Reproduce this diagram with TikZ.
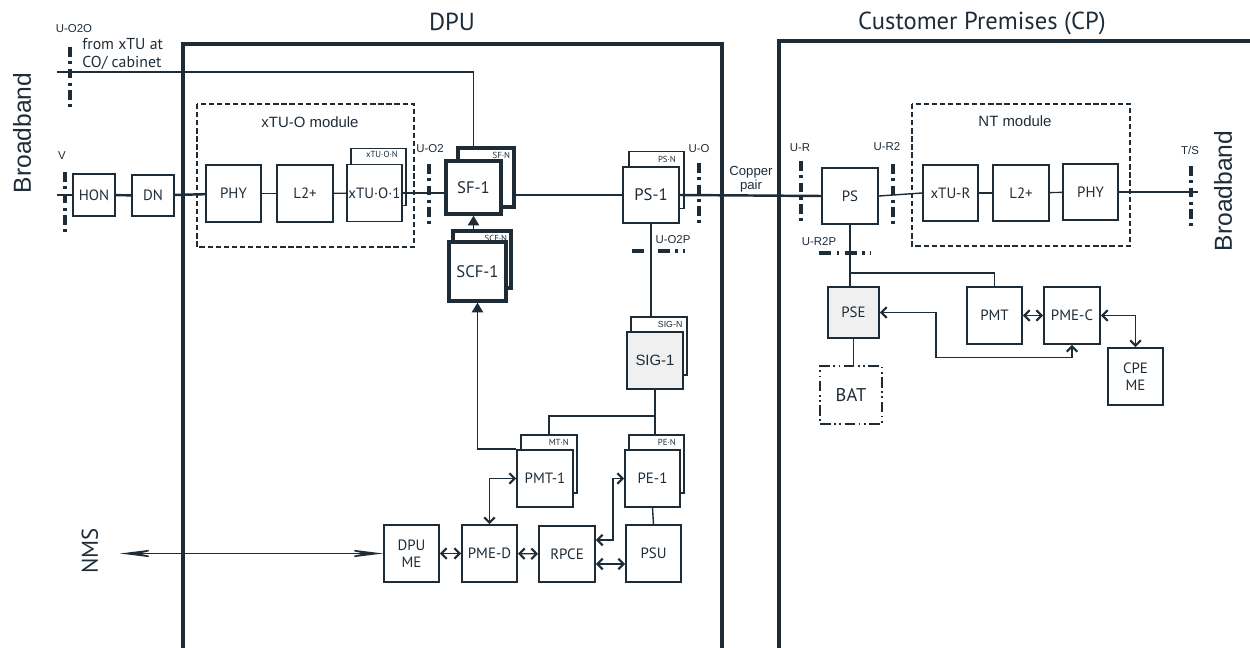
\documentclass[tikz,border=0pt]{standalone}
\usepackage{fontspec}
\usetikzlibrary{arrows.meta}
\newfontfamily\ptsans{PT Sans}
\newfontfamily\arial{Liberation Sans}
\definecolor{ink}{RGB}{30,44,56}
\definecolor{shade}{RGB}{240,240,240}

\tikzset{
	blk/.style={draw=ink, line width=1.1pt, fill=white, text=ink, inner sep=0pt, minimum width=1.1cm, minimum height=1.14cm, align=center, font=\ptsans\fontsize{8.5}{9.5}\selectfont},
	heavy/.style={blk, line width=2pt, font=\ptsans\fontsize{9.5}{10}\selectfont},
	tag/.style={anchor=north east, inner sep=1pt, text=ink, font=\ptsans\fontsize{5}{5}\selectfont},
	wire/.style={draw=ink, line width=0.8pt},
	bus/.style={draw=ink, line width=1.4pt},
	duo/.style={wire, {Straight Barb[length=3pt,width=6pt,line width=1.2pt]}-{Straight Barb[length=3pt,width=6pt,line width=1.2pt]}},
	iface/.style={draw=ink, line width=1.8pt, dash pattern=on 5.5pt off 2.6pt on 1.6pt off 2.6pt},
	module/.style={draw=ink, line width=0.9pt, dash pattern=on 3pt off 1.6pt},
	frame/.style={draw=ink, line width=2.4pt},
	ifname/.style={text=ink, inner sep=0pt, font=\arial\fontsize{6.5}{7}\selectfont},
}

\begin{document}
\begin{tikzpicture}[x=0.02cm, y=-0.02cm]
	
	\useasboundingbox (0,0) rectangle (1250,648);
	
	% DPU and customer premises
	\draw[frame] (183,648) |- (722,44) -- (722,648);
	\draw[frame] (779,648) |- (1250,41);
	\node[text=ink, font=\ptsans\fontsize{14}{16}\selectfont] (dputitle) at (452,22) {DPU};
	\node[text=ink, font=\ptsans\fontsize{14}{16}\selectfont] (cptitle) at (982,23) {Customer Premises (CP)};
	
	\node[rotate=90, text=ink, font=\arial\fontsize{14}{15}\selectfont] (bbleft) at (22,133) {Broadband};
	\node[rotate=90, text=ink, font=\arial\fontsize{14}{15}\selectfont] (bbright) at (1223,191) {Broadband};
	\node[rotate=90, text=ink, font=\ptsans\fontsize{13}{15}\selectfont] (nms) at (90,551) {NMS};
	
	% modules
	\draw[module] (197,104) rectangle (414,247);
	\node[text=ink, font=\arial\fontsize{8.5}{10}\selectfont] (xtumod) at (310,122) {xTU-O module};
	\draw[module] (912,104) rectangle (1130,246);
	\node[text=ink, font=\arial\fontsize{8.5}{10}\selectfont] (ntmod) at (1015,121) {NT module};
	
	% DPU side
	\node[blk, minimum width=0.84cm, minimum height=0.84cm] (hon) at (94,195) {HON};
	\node[blk, minimum width=0.84cm, minimum height=0.82cm] (dn) at (153,195.5) {DN};
	\node[blk] (phy) at (233.5,193.5) {PHY};
	\node[blk, minimum width=1.12cm] (ltwo) at (305,193.5) {L2+};
	\node[blk] (xtun) at (378.5,177) {};
	\node[tag] at ([xshift=-4pt,yshift=-1pt]xtun.north east) {xTU·O·N};
	\node[blk] (xtuone) at (374.5,193) {xTU·O·1};
	
	\node[heavy, minimum width=1.12cm, minimum height=1.18cm] (sfn) at (486,177.5) {};
	\node[tag] at ([xshift=-2pt,yshift=-2pt]sfn.north east) {SF·N};
	\node[heavy, minimum height=1.06cm] (sfone) at (473.5,187.5) {SF-1};
	
	\node[heavy, minimum width=1.16cm] (scfn) at (482,259.5) {};
	\node[tag] at ([xshift=-2pt,yshift=-2pt]scfn.north east) {SCF·N};
	\node[heavy, minimum width=1.14cm, minimum height=1.18cm] (scfone) at (477.5,271.5) {SCF-1};
	
	\node[blk] (psn) at (656.5,180) {};
	\node[tag] at ([xshift=-4pt,yshift=-2pt]psn.north east) {PS·N};
	\node[blk, minimum width=1.12cm, minimum height=1.12cm, font=\ptsans\fontsize{9.5}{10}\selectfont] (psone) at (651,195) {PS-1};
	
	\node[blk, minimum width=1.12cm, minimum height=1.16cm] (sign) at (659,346) {};
	\node[tag, font=\arial\fontsize{5}{5}\selectfont] at ([xshift=-2pt,yshift=-2pt]sign.north east) {SIG-N};
	\node[blk, fill=shade, minimum width=1.12cm, font=\arial\fontsize{8.5}{10}\selectfont] (sigone) at (655,360.5) {SIG-1};
	
	\node[blk, minimum width=1.12cm, minimum height=1.16cm] (pmtn) at (549,464) {};
	\node[tag] at ([xshift=-4pt,yshift=-2pt]pmtn.north east) {MT·N};
	\node[blk, minimum width=1.12cm] (pmtone) at (545,478.5) {PMT-1};
	
	\node[blk, minimum height=1.16cm] (pen) at (656.5,464) {};
	\node[tag] at ([xshift=-4pt,yshift=-2pt]pen.north east) {PE·N};
	\node[blk] (peone) at (652.5,478.5) {PE-1};
	
	\node[blk] (dpume) at (411.5,553.5) {DPU\\ME};
	\node[blk] (pmed) at (489.5,553.5) {PME-D};
	\node[blk, minimum width=1.12cm, minimum height=1.12cm] (rpce) at (567,554) {RPCE};
	\node[blk] (psu) at (653.5,553.5) {PSU};
	
	% CP side
	\node[blk, minimum width=1.12cm, minimum height=1.12cm] (ps) at (850,196) {PS};
	\node[blk, minimum height=1.12cm] (xtur) at (950.5,193) {xTU-R};
	\node[blk, minimum width=1.12cm, minimum height=1.12cm] (ltwor) at (1021,193) {L2+};
	\node[blk, minimum height=1.12cm] (phyr) at (1090.5,192) {PHY};
	
	\node[blk, fill=shade, minimum width=1.02cm, minimum height=1.02cm] (pse) at (853.5,312.5) {PSE};
	\node[blk] (pmt) at (994.5,315.5) {PMT};
	\node[blk, minimum width=1.12cm] (pmec) at (1072,315.5) {PME-C};
	\node[blk] (cpeme) at (1135.5,376.5) {CPE\\ME};
	\node[blk, line width=0.8pt, dash pattern=on 6pt off 2pt on 1pt off 2pt on 1pt off 2pt, minimum width=1.24cm, minimum height=1.16cm, font=\ptsans\fontsize{10.5}{11}\selectfont] (bat) at (851,395) {BAT};
	
	% connectors
	\coordinate (vin) at (57,195);
	\coordinate (tsout) at (1198,192);
	\coordinate (cotop) at (57,72);
	\coordinate (nmsend) at (120,553.5);
	
	\draw[wire] (vin) -- (hon.west);
	\draw[bus] (hon) -- (dn);
	\draw[bus] (dn) -- (phy);
	\draw[wire] (phy) -- (ltwo);
	\draw[wire] (ltwo) -- (xtuone);
	\draw[wire] (xtuone.east) -- (xtuone.east -| sfone.west);
	\draw[wire] (psone.west) -- (psone.west -| sfn.east);
	\draw[bus] (psone.east) -- (ps.west);
	\draw[wire] (cotop) -| (sfone.north |- sfn.north);
	\draw[wire, -{Triangle[length=5.5pt,width=6.5pt]}] (scfn.north -| sfone.south) -- (sfone.south);
	\draw[wire, -{Triangle[length=5.5pt,width=6.5pt]}] (pmtone.north west) -| (scfone.south);
	
	\draw[wire] (psone.south) -- (psone.south |- sign.north);
	\draw[wire] (sigone.south) -- (sigone.south |- pen.north);
	\draw[wire] (sigone.south) -- ++(0,26) -| (pmtn.north);
	\draw[wire] (peone.south) -- (psu.north);
	
	\draw[duo] (dpume) -- (pmed);
	\draw[duo] (pmed) -- (rpce);
	\draw[duo] ([yshift=-0.2cm]rpce.east) -- ([yshift=-0.2cm]rpce.east -| psu.west);
	\draw[duo] ([yshift=0.28cm]rpce.east) -- ++(17,0) |- (peone.west);
	\draw[duo] (pmed.north) |- (pmtone.west);
	\draw[wire, {Stealth[length=24pt,width=6pt,inset=13pt]}-{Stealth[length=24pt,width=6pt,inset=13pt]}] (nmsend) -- (dpume.west);
	
	\draw[wire] (ps.east) -- (xtur.west);
	\draw[wire] (xtur) -- (ltwor);
	\draw[wire] (ltwor) -- (phyr);
	\draw[wire] (phyr.east) -- (tsout);
	\draw[wire] (ps.south) -- (ps.south |- pse.north);
	\draw[wire] (ps.south) -- ++(0,48) -| (pmt.north);
	\draw[wire] (pse.south) -- (pse.south |- bat.north);
	\draw[duo] (pmt) -- (pmec);
	\draw[duo] (pmec.east) -| (cpeme.north);
	\draw[duo] (pse.east) -- ++(56,0) -- ++(0,45) -| (pmec.south);
	
	% interfaces
	\draw[iface] (70,47) -- (70,107);
	\node[ifname] (uotwoo) at (74,29) {U-O2O};
	\node[text=ink, anchor=west, align=left, inner sep=0pt, font=\ptsans\fontsize{9}{10.2}\selectfont] (fromxtu) at (82,54) {from xTU at\\CO/ cabinet};
	\draw[iface] (65,172) -- (65,232);
	\node[ifname] (vname) at (62,156) {V};
	\draw[iface] (429,164) -- (429,224);
	\node[ifname] (uotwo) at (430,149) {U-O2};
	\draw[iface] (699,163) -- (699,223);
	\node[ifname] (uo) at (699,149) {U-O};
	\draw[iface] (801,161) -- (801,222);
	\node[ifname] (ur) at (800,148) {U-R};
	\draw[iface] (893,164) -- (893,225);
	\node[ifname] (urtwo) at (887,147) {U-R2};
	\draw[iface] (1191,166) -- (1191,226);
	\node[ifname] (ts) at (1190,150) {T/S};
	\draw[iface, dash pattern=on 7pt off 3pt on 1.6pt off 3pt] (632,251) -- (685,251);
	\node[ifname] (uotwop) at (673,240) {U-O2P};
	\draw[iface, dash pattern=on 7pt off 3pt on 1.6pt off 3pt] (819,253) -- (871,253);
	\node[ifname] (urtwop) at (819,242) {U-R2P};
	
	\node[text=ink, align=center, inner sep=0pt, font=\arial\fontsize{7.5}{8}\selectfont] (copper) at (751,179) {Copper\\pair};

\end{tikzpicture}
\end{document}
